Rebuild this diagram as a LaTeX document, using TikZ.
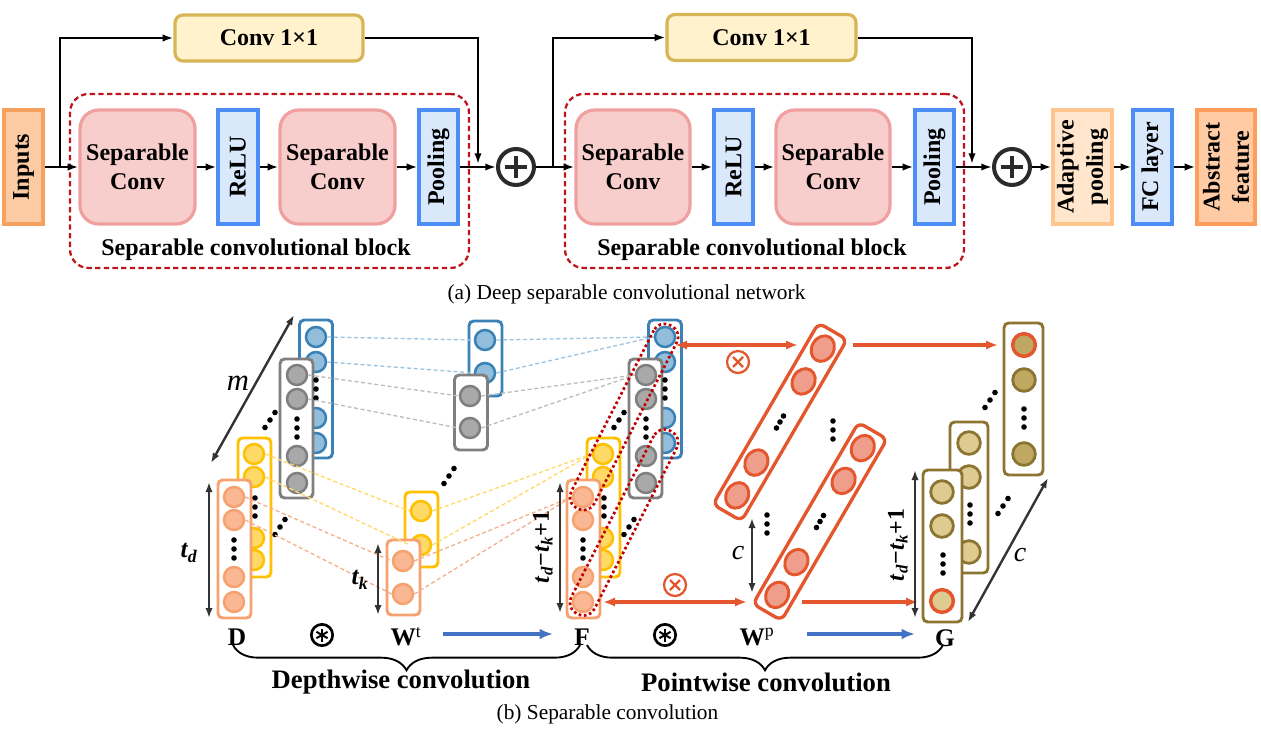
\documentclass[tikz,border=0pt]{standalone}
\usepackage{fontspec}
\setmainfont{Liberation Serif}
\usetikzlibrary{arrows.meta,shapes.geometric,decorations.pathreplacing,calc}

\definecolor{inpF}{HTML}{FCCBA3}\definecolor{inpD}{HTML}{F7A15E}
\definecolor{convF}{HTML}{FFF2CC}\definecolor{convD}{HTML}{D6B656}
\definecolor{sepF}{HTML}{F8CECC}\definecolor{sepD}{HTML}{EFA09E}
\definecolor{bluF}{HTML}{DAE8FC}\definecolor{bluD}{HTML}{4C8DF6}
\definecolor{adpF}{HTML}{FFE6CC}\definecolor{adpD}{HTML}{FFC58F}
\definecolor{absF}{HTML}{FFCBA4}\definecolor{absD}{HTML}{FF9D5C}
\definecolor{blkred}{HTML}{C0141C}
\definecolor{plusC}{HTML}{2B2B2B}
\definecolor{cBd}{HTML}{3A82B5}\definecolor{cBf}{HTML}{92BEDB}
\definecolor{cGd}{HTML}{7F7F7F}\definecolor{cGf}{HTML}{A9A9A9}
\definecolor{cYd}{HTML}{FFC000}\definecolor{cYf}{HTML}{FFD966}
\definecolor{cOd}{HTML}{F6A270}\definecolor{cOf}{HTML}{F9B793}
\definecolor{cKd}{HTML}{8C7433}\definecolor{cKf}{HTML}{DDCB8F}\definecolor{cKb}{HTML}{C0A862}
\definecolor{rr}{HTML}{E4572E}\definecolor{rrf}{HTML}{EE9E8A}
\definecolor{dotred}{HTML}{C00000}
\definecolor{lB}{HTML}{9CC3E0}\definecolor{lG}{HTML}{BDBDBD}\definecolor{lY}{HTML}{FFD966}\definecolor{lO}{HTML}{F4B08E}
\definecolor{arrB}{HTML}{4472C4}
\definecolor{dk}{HTML}{333333}

\newcommand\mydots[2]{\foreach \q in {-9,0,9} \fill (#1,{#2+\q}) circle (2.1pt);}
\newcommand\mydiag[2]{\foreach \q in {-1,0,1} \fill ({#1+5*\q},{#2-7.5*\q}) circle (2.1pt);}
\newcommand\myaxdots[2]{\foreach \q in {-1,0,1} \fill ({#1+3.5*\q},{#2-6*\q}) circle (2.1pt);}

\tikzset{
  bft/.style={font=\bfseries\fontsize{18}{22}\selectfont, align=center, inner sep=0pt},
  flowbox/.style={draw=#1D, fill=#1F, line width=2.4pt, inner sep=0pt},
  arr/.style={-{Latex[length=8pt,width=5.5pt]}, line width=1.5pt},
  colbox/.style={draw=#1, fill=white, line width=2.2pt, rounded corners=3.5pt, inner sep=0pt, minimum width=24.75pt},
  cnode/.style 2 args={circle, draw=#1, fill=#2, line width=1.9pt, inner sep=0pt, minimum size=15pt},
  gnode/.style 2 args={circle, draw=#1, fill=#2, line width=2.1pt, inner sep=0pt, minimum size=17pt},
  dline/.style={draw=#1, dash pattern=on 3pt off 2pt, line width=1pt},
  dimarr/.style={{Latex[length=7.5pt,width=5.5pt]}-{Latex[length=7.5pt,width=5.5pt]}, draw=dk, line width=1.8pt},
  rarr/.style={-{Latex[length=9pt,width=7pt]}, draw=rr, line width=2.3pt},
  rdarr/.style={{Latex[length=9pt,width=7pt]}-{Latex[length=9pt,width=7pt]}, draw=rr, line width=2.3pt},
  barr/.style={-{Latex[length=10pt,width=8pt]}, draw=arrB, line width=3pt},
  rdot/.style={draw=dotred, line width=2pt, dash pattern=on 2pt off 2pt, rounded corners=9pt, minimum width=154pt, minimum height=19.5pt, rotate=62.9, inner sep=0pt},
  wprect/.style={draw=rr, fill=white, line width=2.5pt, rounded corners=5pt, minimum width=157.5pt, minimum height=24.75pt, rotate=59.8, inner sep=0pt},
  wpell/.style={ellipse, draw=rr, fill=rrf, line width=2.2pt, minimum width=20pt, minimum height=16.5pt, rotate=59.8, inner sep=0pt},
  otimes/.style={circle, draw=rr, line width=1.7pt, minimum size=16.5pt, inner sep=0pt},
  oast/.style={circle, draw=black, line width=2pt, minimum size=16pt, inner sep=0pt},
  blk/.style={draw=blkred, line width=1.7pt, dash pattern=on 4pt off 2.5pt, rounded corners=14pt, minimum width=299.25pt, minimum height=130.5pt, inner sep=0pt},
  plusnode/.style={circle, draw=plusC, fill=white, line width=3pt, minimum size=27pt, inner sep=0pt},
  bigl/.style={font=\bfseries\fontsize{19}{19}\selectfont, inner sep=0pt},
}

\begin{document}
\begin{tikzpicture}[x=0.75pt,y=-0.75pt]
\useasboundingbox (0,0) rectangle (1261,732);

% ================= (a) =================
\node[blk] (blk1) at (269.5,181) {};
\node[blk] (blk2) at (764.5,181) {};
\node[bft] (blk1T) at (256,250) {Separable convolutional block};
\node[bft] (blk2T) at (752,250) {Separable convolutional block};

\node[flowbox=inp, minimum width=29.25pt, minimum height=85.5pt] (inputs) at (23.5,167) {};
\node[bft, rotate=90] (inputsT) at (inputs.center) {Inputs};

\node[flowbox=conv, rounded corners=6pt, minimum width=141pt, minimum height=34.5pt, bft] (conv1) at (269,38) {Conv 1×1};
\node[flowbox=conv, rounded corners=6pt, minimum width=141.75pt, minimum height=34.5pt, bft] (conv2) at (761.5,37.5) {Conv 1×1};

\node[flowbox=sep, rounded corners=14pt, minimum width=86.25pt, minimum height=85.5pt, bft] (sc1) at (137.5,167) {Separable\\Conv};
\node[flowbox=sep, rounded corners=14pt, minimum width=86.25pt, minimum height=85.5pt, bft] (sc2) at (337.5,167) {Separable\\Conv};
\node[flowbox=sep, rounded corners=14pt, minimum width=85.5pt, minimum height=85.5pt, bft] (sc3) at (633,167) {Separable\\Conv};
\node[flowbox=sep, rounded corners=14pt, minimum width=85.5pt, minimum height=85.5pt, bft] (sc4) at (833,167) {Separable\\Conv};

\node[flowbox=blu, minimum width=30pt, minimum height=85.5pt] (relu1) at (238,167) {};
\node[bft, rotate=90] (relu1T) at (relu1.center) {ReLU};
\node[flowbox=blu, minimum width=29.25pt, minimum height=85.5pt] (pool1) at (438.5,167) {};
\node[bft, rotate=90] (pool1T) at (pool1.center) {Pooling};
\node[flowbox=blu, minimum width=29.25pt, minimum height=85.5pt] (relu2) at (733.5,167) {};
\node[bft, rotate=90] (relu2T) at (relu2.center) {ReLU};
\node[flowbox=blu, minimum width=29.25pt, minimum height=85.5pt] (pool2) at (934.5,167) {};
\node[bft, rotate=90] (pool2T) at (pool2.center) {Pooling};

\node[plusnode] (plus1) at (516,167) {};
\node[plusnode] (plus2) at (1012,167) {};
\foreach \p in {plus1,plus2}{
  \draw[line width=3pt, plusC] ($(\p.center)+(-11,0)$) -- ($(\p.center)+(11,0)$);
  \draw[line width=3pt, plusC] ($(\p.center)+(0,-11)$) -- ($(\p.center)+(0,11)$);
}

\node[flowbox=adp, minimum width=44.25pt, minimum height=85.5pt] (adapt) at (1082.5,167) {};
\node[bft, rotate=90] (adaptT) at (adapt.center) {Adaptive\\pooling};
\node[flowbox=blu, minimum width=29.25pt, minimum height=85.5pt] (fc) at (1152.5,167) {};
\node[bft, rotate=90] (fcT) at (fc.center) {FC layer};
\node[flowbox=abs, minimum width=43.5pt, minimum height=85.5pt] (absf) at (1226,167) {};
\node[bft, rotate=90] (absfT) at (absf.center) {Abstract\\feature};

\coordinate (br1) at (60,167);
\coordinate (dn1) at (478,164);
\coordinate (br2) at (553,167);
\coordinate (dn2) at (972,164);
\draw[line width=1.5pt] (inputs.east) -- (br1);
\draw[arr] (br1) -- (sc1.west);
\draw[arr] (br1) |- (conv1.west);
\draw[arr] (conv1.east) -| (dn1);
\draw[arr] (sc1.east) -- (relu1.west);
\draw[arr] (relu1.east) -- (sc2.west);
\draw[arr] (sc2.east) -- (pool1.west);
\draw[arr] (pool1.east) -- (plus1.west);
\draw[line width=1.5pt] (plus1.east) -- (br2);
\draw[arr] (br2) -- (sc3.west);
\draw[arr] (br2) |- (conv2.west);
\draw[arr] (conv2.east) -| (dn2);
\draw[arr] (sc3.east) -- (relu2.west);
\draw[arr] (relu2.east) -- (sc4.west);
\draw[arr] (sc4.east) -- (pool2.west);
\draw[arr] (pool2.east) -- (plus2.west);
\draw[arr] (plus2.east) -- (adapt.west);
\draw[arr] (adapt.east) -- (fc.west);
\draw[arr] (fc.east) -- (absf.west);

\node[font=\fontsize{16}{16}\selectfont, inner sep=0pt] (capA) at (626.5,294) {(a) Deep separable convolutional network};

% ================= (b) =================
% --- D ---
\node[colbox=cBd, minimum height=103.5pt] (dB) at (316,389) {};
\foreach \yy [count=\i] in {337,362,418,443} \node[cnode={cBd}{cBf}] (dB\i) at (316,\yy) {};
\node[colbox=cGd, minimum height=104.25pt] (dG) at (296.5,428.5) {};
\foreach \yy [count=\i] in {375,399,456,483} \node[cnode={cGd}{cGf}] (dG\i) at (297,\yy) {};
\node[colbox=cYd, minimum height=104.25pt] (dY) at (254.5,507.5) {};
\foreach \yy [count=\i] in {454,477,538,560} \node[cnode={cYd}{cYf}] (dY\i) at (254,\yy) {};
\node[colbox=cOd, minimum height=103.5pt] (dO) at (234.5,549) {};
\foreach \yy [count=\i] in {497,520,577,602} \node[cnode={cOd}{cOf}] (dO\i) at (234,\yy) {};
\mydots{316}{389}\mydots{297}{428}\mydots{255}{507}\mydots{234}{549}
\mydiag{270}{420}\mydiag{280}{527}

% --- W^t ---
\node[colbox=cBd, minimum height=56.25pt] (wB) at (485.5,358.5) {};
\node[cnode={cBd}{cBf}] (wB1) at (485,340) {};
\node[cnode={cBd}{cBf}] (wB2) at (485,373) {};
\node[colbox=cGd, minimum height=56.25pt] (wG) at (471,412.5) {};
\node[cnode={cGd}{cGf}] (wG1) at (470,396) {};
\node[cnode={cGd}{cGf}] (wG2) at (470,428) {};
\node[colbox=cYd, minimum height=56.25pt] (wY) at (421.5,529.5) {};
\node[cnode={cYd}{cYf}] (wY1) at (421,511) {};
\node[cnode={cYd}{cYf}] (wY2) at (421,545) {};
\node[colbox=cOd, minimum height=56.25pt] (wO) at (403.5,577.5) {};
\node[cnode={cOd}{cOf}] (wO1) at (403,561) {};
\node[cnode={cOd}{cOf}] (wO2) at (403,594) {};
\mydiag{449}{476}

% --- F ---
\node[colbox=cBd, minimum height=103.5pt] (fB) at (665,389) {};
\foreach \yy [count=\i] in {337,362,418,443} \node[cnode={cBd}{cBf}] (fB\i) at (665,\yy) {};
\node[colbox=cGd, minimum height=104.25pt] (fG) at (645.5,428.5) {};
\foreach \yy [count=\i] in {375,399,456,483} \node[cnode={cGd}{cGf}] (fG\i) at (646,\yy) {};
\node[colbox=cYd, minimum height=104.25pt] (fY) at (603.5,507.5) {};
\foreach \yy [count=\i] in {454,477,538,560} \node[cnode={cYd}{cYf}] (fY\i) at (603,\yy) {};
\node[colbox=cOd, minimum height=103.5pt] (fO) at (583.5,549) {};
\foreach \yy [count=\i] in {497,520,577,602} \node[cnode={cOd}{cOf}] (fO\i) at (583,\yy) {};
\mydots{665}{389}\mydots{646}{428}\mydots{604}{507}\mydots{583}{549}
\mydiag{619}{420}\mydiag{629}{527}

% --- dashed links ---
\draw[dline=lB] (dB1.east) -- (wB1.west);
\draw[dline=lB] (dB2.east) -- (wB2.west);
\draw[dline=lG] (dG1.east) -- (wG1.west);
\draw[dline=lG] (dG2.east) -- (wG2.west);
\draw[dline=lY] (dY1.east) -- (wY1.west);
\draw[dline=lY] (dY2.east) -- (wY2.west);
\draw[dline=lO] (dO1.east) -- (wO1.west);
\draw[dline=lO] (dO2.east) -- (wO2.west);
\draw[dline=lB] (wB1.east) -- (fB1.west);
\draw[dline=lB] (wB2.east) -- (fB1.west);
\draw[dline=lG] (wG1.east) -- (fG1.west);
\draw[dline=lG] (wG2.east) -- (fG1.west);
\draw[dline=lY] (wY1.east) -- (fY1.west);
\draw[dline=lY] (wY2.east) -- (fY1.west);
\draw[dline=lO] (wO1.east) -- (fO1.west);
\draw[dline=lO] (wO2.east) -- (fO1.west);

% red dotted groups in F
\node[rdot] (grpTop) at (624,417) {};
\node[rdot] (grpBot) at (624,522.5) {};

% --- W^p ---
\node[wprect] (wp1) at (780,422) {};
\node[wpell] (wp1a) at (822.8,348.6) {};
\node[wpell] (wp1b) at (803.6,381.4) {};
\node[wpell] (wp1c) at (756.4,462.6) {};
\node[wpell] (wp1d) at (737.2,495.4) {};
\myaxdots{780}{422}
\node[wprect] (wp2) at (820,521.5) {};
\node[wpell] (wp2a) at (862.8,448.1) {};
\node[wpell] (wp2b) at (843.6,480.9) {};
\node[wpell] (wp2c) at (796.4,562.1) {};
\node[wpell] (wp2d) at (777.2,594.9) {};
\myaxdots{820}{521.5}
\mydots{833}{430}\mydots{767}{524}

% --- G ---
\node[colbox=cKd, minimum width=29.25pt, minimum height=114pt] (gB) at (1023.5,399) {};
\node[gnode={rr}{cKb}, line width=2.6pt] (gB1) at (1024,345) {};
\node[gnode={cKd}{cKb}] (gB2) at (1024,380) {};
\node[gnode={cKd}{cKb}] (gB3) at (1024,454) {};
\node[colbox=cKd, minimum width=28.5pt, minimum height=113.25pt] (gM) at (969,497.5) {};
\node[gnode={cKd}{cKf}] (gM1) at (969,443) {};
\node[gnode={cKd}{cKf}] (gM2) at (969,477) {};
\node[gnode={cKd}{cKf}] (gM3) at (969,552) {};
\node[colbox=cKd, minimum width=29.25pt, minimum height=114pt] (gF) at (942.5,546) {};
\node[gnode={cKd}{cKf}] (gF1) at (942,492) {};
\node[gnode={cKd}{cKf}] (gF2) at (942,526) {};
\node[gnode={rr}{cKf}, line width=2.6pt] (gF3) at (942,601) {};
\mydots{1024}{418}\mydots{970}{514}\mydots{943}{564}
\mydiag{990}{400}\mydiag{1003}{506}

% --- red arrows ---
\coordinate (ra1s) at (675,345); \coordinate (ra1e) at (798,345);
\coordinate (ra2s) at (853,345); \coordinate (ra2e) at (998,345);
\coordinate (ra3s) at (603,602); \coordinate (ra3e) at (747,602);
\coordinate (ra4s) at (802,602); \coordinate (ra4e) at (918,602);
\draw[rdarr] (ra1s) -- (ra1e);
\draw[rarr] (ra2s) -- (ra2e);
\draw[rdarr] (ra3s) -- (ra3e);
\draw[rarr] (ra4s) -- (ra4e);
\node[otimes] (ot1) at (738,362) {};
\node[otimes] (ot2) at (675,585) {};
\foreach \o in {ot1,ot2}{
  \draw[rr, line width=1.7pt] ($(\o.center)+(-5,-5)$) -- ($(\o.center)+(5,5)$);
  \draw[rr, line width=1.7pt] ($(\o.center)+(-5,5)$) -- ($(\o.center)+(5,-5)$);
}

% --- dimension arrows ---
\coordinate (mA) at (211,463); \coordinate (mB) at (294,315);
\draw[dimarr] (mA) -- (mB);
\node[font=\itshape\fontsize{23}{23}\selectfont, inner sep=0pt] (mL) at (238,383) {m};
\coordinate (tdA) at (209,482); \coordinate (tdB) at (209,618);
\draw[dimarr] (tdA) -- (tdB);
\node[font=\bfseries\itshape\fontsize{19}{19}\selectfont, inner sep=0pt] (tdL) at (189,553) {t\textsubscript{d}};
\coordinate (tkA) at (378,543); \coordinate (tkB) at (378,615);
\draw[dimarr] (tkA) -- (tkB);
\node[font=\bfseries\itshape\fontsize{19}{19}\selectfont, inner sep=0pt] (tkL) at (360,580) {t\textsubscript{k}};
\coordinate (tfA) at (560,482); \coordinate (tfB) at (560,613);
\draw[dimarr] (tfA) -- (tfB);
\node[rotate=90, font=\bfseries\fontsize{18}{18}\selectfont, inner sep=0pt] (tfL) at (543,547) {\textit{t}\textsubscript{\textit{d}}−\textit{t}\textsubscript{\textit{k}}+1};
\coordinate (cA) at (752,518); \coordinate (cB) at (752,593);
\draw[dimarr] (cA) -- (cB);
\node[font=\itshape\fontsize{21}{21}\selectfont, inner sep=0pt] (cL) at (738,553) {c};
\coordinate (tgA) at (915,470); \coordinate (tgB) at (915,618);
\draw[dimarr] (tgA) -- (tgB);
\node[rotate=90, font=\bfseries\fontsize{18}{18}\selectfont, inner sep=0pt] (tgL) at (898,545) {\textit{t}\textsubscript{\textit{d}}−\textit{t}\textsubscript{\textit{k}}+1};
\coordinate (gcA) at (968,622); \coordinate (gcB) at (1048,478);
\draw[dimarr] (gcA) -- (gcB);
\node[font=\itshape\fontsize{21}{21}\selectfont, inner sep=0pt] (gcL) at (1020,555) {c};

% --- bottom labels ---
\node[bigl] (Dl) at (237,637) {D};
\node[oast] (op1) at (322,635) {};
\node[bigl] (Wtl) at (406,637) {W\textsuperscript{\mdseries t}};
\node[bigl] (Fl) at (582,637) {F};
\node[oast] (op2) at (665,635) {};
\node[bigl] (Wpl) at (757,637) {W\textsuperscript{\mdseries p}};
\node[bigl] (Gl) at (945,638) {G};
\foreach \o in {op1,op2}{
  \draw[line width=1.5pt] ($(\o.center)+(0,-6.5)$) -- ($(\o.center)+(0,6.5)$);
  \draw[line width=1.5pt] ($(\o.center)+(-5.6,-3.2)$) -- ($(\o.center)+(5.6,3.2)$);
  \draw[line width=1.5pt] ($(\o.center)+(-5.6,3.2)$) -- ($(\o.center)+(5.6,-3.2)$);
}
\coordinate (ba1s) at (443,634); \coordinate (ba1e) at (553,634);
\coordinate (ba2s) at (807,634); \coordinate (ba2e) at (915,634);
\draw[barr] (ba1s) -- (ba1e);
\draw[barr] (ba2s) -- (ba2e);

\coordinate (brD) at (233,645); \coordinate (brF1) at (580,645);
\coordinate (brF2) at (587,645); \coordinate (brG) at (943,645);
\draw[line width=1.4pt, decorate, decoration={brace, mirror, amplitude=19pt}] (brD) -- (brF1);
\draw[line width=1.4pt, decorate, decoration={brace, mirror, amplitude=19pt}] (brF2) -- (brG);
\node[font=\bfseries\fontsize{20}{20}\selectfont, inner sep=0pt] (dwT) at (401,682) {Depthwise convolution};
\node[font=\bfseries\fontsize{20}{20}\selectfont, inner sep=0pt] (pwT) at (766,682) {Pointwise convolution};
\node[font=\fontsize{16}{16}\selectfont, inner sep=0pt] (capB) at (607.5,714) {(b) Separable convolution};
\end{tikzpicture}
\end{document}
